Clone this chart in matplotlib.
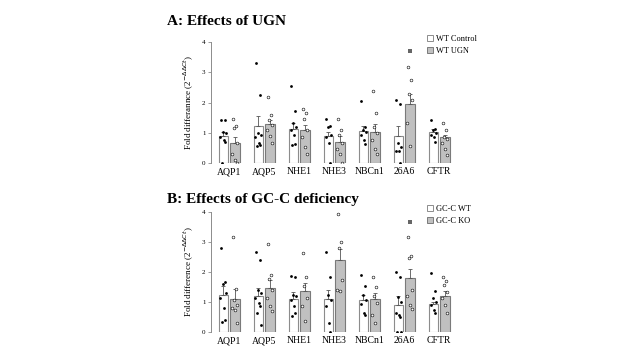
import matplotlib.pyplot as plt
import numpy as np
from matplotlib.patches import Patch

plt.rcParams["font.family"] = ["Liberation Serif", "DejaVu Serif"]

GENES = ["AQP1", "AQP5", "NHE1", "NHE3", "NBCn1", "26A6", "CFTR"]

# Panel A: WT control vs WT UGN
UGN_CTRL_MEAN = [0.91, 1.23, 1.14, 0.91, 1.07, 0.91, 1.03]
UGN_CTRL_SEM = [0.12, 0.32, 0.20, 0.12, 0.15, 0.31, 0.11]
UGN_TRT_MEAN = [0.65, 1.28, 1.09, 0.70, 1.03, 1.97, 0.85]
UGN_TRT_SEM = [0.21, 0.16, 0.17, 0.18, 0.27, 0.31, 0.08]
UGN_CTRL_PTS = [
    [1.42, 1.44, 1.03, 0.98, 0.85, 0.76, 0.70, 0.0],
    [3.30, 2.25, 0.98, 0.92, 0.87, 0.65, 0.60, 0.57],
    [2.55, 1.72, 1.31, 1.20, 1.09, 0.92, 0.63, 0.60],
    [1.47, 1.22, 1.18, 0.92, 0.87, 0.65, 0.0],
    [2.04, 1.20, 1.09, 1.03, 0.92, 0.76, 0.63],
    [2.08, 1.95, 0.65, 0.54, 0.41, 0.40, 0.0],
    [1.44, 1.14, 1.09, 0.98, 0.92, 0.87, 0.70],
]
UGN_TRT_PTS = [
    [1.46, 1.22, 1.16, 0.65, 0.30, 0.10, 0.0],
    [2.19, 1.58, 1.42, 1.25, 1.09, 0.89, 0.67],
    [1.78, 1.64, 1.47, 1.09, 0.87, 0.54, 0.30],
    [1.47, 1.09, 0.92, 0.65, 0.48, 0.30, 0.0],
    [2.38, 1.67, 1.20, 1.00, 0.76, 0.48, 0.30],
    [3.18, 2.76, 2.30, 2.08, 1.31, 0.56],
    [1.33, 1.09, 0.87, 0.81, 0.65, 0.48, 0.26],
]
UGN_OUTLIERS = [None, None, None, None, None, 3.70, None]

# Panel B: GC-C WT vs GC-C KO
GCC_WT_MEAN = [1.23, 1.20, 1.10, 1.10, 1.06, 0.90, 0.93]
GCC_WT_SEM = [0.29, 0.27, 0.22, 0.31, 0.18, 0.30, 0.08]
GCC_KO_MEAN = [1.11, 1.47, 1.38, 2.39, 1.11, 1.79, 1.21]
GCC_KO_SEM = [0.32, 0.27, 0.25, 0.38, 0.19, 0.30, 0.16]
GCC_WT_PTS = [
    [2.79, 1.66, 1.61, 1.30, 1.13, 0.80, 0.41, 0.34],
    [2.68, 2.41, 1.39, 1.30, 1.13, 0.97, 0.86, 0.63, 0.24],
    [1.88, 1.83, 1.24, 1.19, 1.08, 0.86, 0.63, 0.52],
    [2.68, 1.82, 1.24, 1.08, 0.86, 0.30, 0.0],
    [1.89, 1.54, 1.24, 1.08, 0.94, 0.63, 0.58],
    [2.01, 1.82, 1.16, 1.01, 0.64, 0.57, 0.51, 0.0, 0.0],
    [1.98, 1.37, 1.12, 1.01, 0.90, 0.73, 0.62],
]
GCC_KO_PTS = [
    [3.17, 1.43, 1.08, 0.91, 0.80, 0.72, 0.30],
    [2.93, 1.90, 1.77, 1.41, 1.13, 0.86, 0.69],
    [2.62, 1.83, 1.52, 1.13, 0.88, 0.36],
    [3.93, 2.99, 2.80, 1.74, 1.41, 1.38],
    [1.82, 1.50, 1.19, 0.97, 0.58, 0.30],
    [3.18, 2.53, 2.46, 1.40, 1.20, 0.90, 0.76],
    [1.82, 1.71, 1.57, 1.34, 1.12, 0.90, 0.62],
]
GCC_OUTLIERS = [None, None, None, 4.30, None, 3.66, None]

JITTER = [-0.06, 0.04, -0.02, 0.07, -0.08, 0.01, 0.05, -0.04, 0.08]
BAR_W = 0.27
OFF = 0.165
EDGE = "#8c8c8c"
GREY = "#c0c0c0"


def draw_panel(ax, c_mean, c_sem, t_mean, t_sem, c_pts, t_pts, outliers, ylabel, labels):
    x = np.arange(len(GENES))
    ax.bar(x - OFF, c_mean, BAR_W, color="white", edgecolor=EDGE, linewidth=0.8, zorder=1)
    ax.bar(x + OFF, t_mean, BAR_W, color=GREY, edgecolor="#7a7a7a", linewidth=0.8, zorder=1)
    ax.errorbar(x - OFF, c_mean, yerr=[np.zeros(len(x)), c_sem], fmt="none",
                ecolor="#555555", elinewidth=0.6, capsize=1.5, capthick=0.6, zorder=2)
    ax.errorbar(x + OFF, t_mean, yerr=[np.zeros(len(x)), t_sem], fmt="none",
                ecolor="#555555", elinewidth=0.6, capsize=1.5, capthick=0.6, zorder=2)
    for i in range(len(GENES)):
        cx = x[i] - OFF + np.array(JITTER[:len(c_pts[i])])
        tx = x[i] + OFF + np.array(JITTER[:len(t_pts[i])])
        ax.scatter(cx, c_pts[i], s=4, color="black", linewidths=0, zorder=3)
        ax.scatter(tx, t_pts[i], s=4, facecolor="white", edgecolor="black",
                   linewidths=0.4, zorder=3)
        if outliers[i] is not None:
            ax.scatter([x[i] + OFF], [outliers[i]], s=7, marker="s",
                       color="#666666", linewidths=0, zorder=3)
    ax.set_xlim(-0.51, 6.6)
    ax.set_ylim(0, 4)
    ax.set_yticks([0, 1, 2, 3, 4])
    ax.set_xticks(x)
    ax.set_xticklabels(GENES, fontsize=7)
    ax.tick_params(axis="x", length=0, pad=3)
    ax.tick_params(axis="y", labelsize=5, length=2, width=0.6, color=EDGE, pad=2)
    for s in ["top", "right", "bottom"]:
        ax.spines[s].set_visible(False)
    ax.spines["left"].set_color(EDGE)
    ax.spines["left"].set_linewidth(0.7)
    ax.set_ylabel(ylabel, fontsize=6.5, labelpad=4)
    handles = [Patch(facecolor="white", edgecolor=EDGE, linewidth=0.7),
               Patch(facecolor=GREY, edgecolor="#7a7a7a", linewidth=0.7)]
    ax.legend(handles, labels, loc="upper left", bbox_to_anchor=(0.855, 1.09),
              frameon=False, fontsize=6, handlelength=0.7, handleheight=0.7,
              handletextpad=0.3, labelspacing=0.5, borderaxespad=0)


fig = plt.figure(figsize=(6.4, 3.6), dpi=100)
ax_a = fig.add_axes([0.330, 0.547, 0.389, 0.336])
ax_b = fig.add_axes([0.330, 0.078, 0.389, 0.333])

draw_panel(ax_a, UGN_CTRL_MEAN, UGN_CTRL_SEM, UGN_TRT_MEAN, UGN_TRT_SEM,
           UGN_CTRL_PTS, UGN_TRT_PTS, UGN_OUTLIERS,
           r"Fold differannce (2$^{-\Delta\Delta Ct}$)", ["WT Control", "WT UGN"])
draw_panel(ax_b, GCC_WT_MEAN, GCC_WT_SEM, GCC_KO_MEAN, GCC_KO_SEM,
           GCC_WT_PTS, GCC_KO_PTS, GCC_OUTLIERS,
           r"Fold difference (2$^{-\Delta\Delta Ct}$)", ["GC-C WT", "GC-C KO"])

fig.text(0.261, 0.939, "A: Effects of UGN", fontsize=11, fontweight="bold", va="center")
fig.text(0.261, 0.447, "B: Effects of GC-C deficiency", fontsize=11, fontweight="bold", va="center")

fig.savefig("out.png", dpi=100)
